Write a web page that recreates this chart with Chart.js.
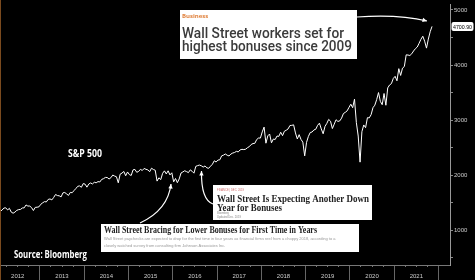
<!DOCTYPE html>
<html>
<head>
<meta charset="utf-8">
<script src="https://cdn.jsdelivr.net/npm/chart.js@4.4.1/dist/chart.umd.min.js"></script>
<style>
  html, body { margin: 0; padding: 0; background: #000; }
  canvas { display: block; }
</style>
</head>
<body>
<canvas id="chart" width="475" height="280"></canvas>
<script>
// S&P 500, about two readings a month (mid-month, month end)
const sp2012 = [1290, 1312, 1343, 1366, 1404, 1408, 1370, 1398, 1330, 1310, 1330, 1362, 1375, 1379, 1405, 1407, 1460, 1440, 1440, 1412, 1359, 1416, 1419, 1426];
const sp2013 = [1472, 1498, 1520, 1515, 1560, 1569, 1552, 1597, 1650, 1631, 1626, 1606, 1680, 1686, 1661, 1633, 1688, 1682, 1721, 1757, 1798, 1806, 1781, 1848];
const sp2014 = [1838, 1783, 1840, 1859, 1841, 1872, 1862, 1884, 1877, 1924, 1937, 1960, 1958, 1931, 1955, 2003, 1985, 1972, 1862, 2018, 2039, 2068, 1990, 2059];
const sp2015 = [2011, 1995, 2097, 2105, 2053, 2068, 2107, 2086, 2123, 2107, 2097, 2063, 2127, 2104, 2091, 1893, 1953, 1920, 2033, 2079, 2023, 2080, 2005, 2044];
const sp2016 = [1880, 1940, 1864, 1932, 2040, 2060, 2081, 2065, 2047, 2097, 2071, 2037, 2161, 2174, 2184, 2171, 2147, 2168, 2133, 2126, 2164, 2199, 2262, 2239];
const sp2017 = [2275, 2279, 2351, 2364, 2385, 2363, 2349, 2384, 2402, 2412, 2433, 2423, 2459, 2470, 2465, 2472, 2500, 2519, 2557, 2575, 2579, 2648, 2675, 2674];
const sp2018 = [2786, 2873, 2581, 2714, 2748, 2588, 2656, 2648, 2711, 2705, 2780, 2718, 2798, 2816, 2840, 2902, 2905, 2914, 2767, 2658, 2736, 2650, 2600, 2351];
const sp2019 = [2596, 2704, 2775, 2784, 2822, 2834, 2905, 2945, 2840, 2752, 2886, 2941, 3013, 2980, 2847, 2926, 3007, 2976, 2986, 3037, 3120, 3141, 3168, 3231];
const sp2020 = [3289, 3225, 3380, 2954, 2711, 2237, 2790, 2912, 2863, 3044, 3041, 3100, 3226, 3271, 3372, 3500, 3340, 3280, 3483, 3270, 3585, 3638, 3663, 3756];
const sp2021 = [3795, 3714, 3934, 3811, 3943, 3973, 4185, 4181, 4173, 4204, 4255, 4297, 4327, 4395, 4468, 4523, 4432, 4307, 4471, 4605, 4700.90];

const years = ['2012', '2013', '2014', '2015', '2016', '2017', '2018', '2019', '2020', '2021'];
const yTickValues = [500, 1000, 1500, 2000, 2500, 3000, 3500, 4000, 4500, 5000];
const lastPrice = 4700.90;

const seriesByYear = [sp2012, sp2013, sp2014, sp2015, sp2016, sp2017, sp2018, sp2019, sp2020, sp2021];

// each year holds 24 half-month slots
const points = [];
seriesByYear.forEach((vals, yi) => {
    vals.forEach((v, i) => points.push({ x: Number(years[yi]) + (i + 0.5) / 24, y: v }));
});

function drawArrow(ctx, x0, y0, cx, cy, x1, y1) {
    ctx.beginPath();
    ctx.moveTo(x0, y0);
    ctx.quadraticCurveTo(cx, cy, x1, y1);
    ctx.stroke();
    const a = Math.atan2(y1 - cy, x1 - cx);
    ctx.beginPath();
    ctx.moveTo(x1, y1);
    ctx.lineTo(x1 - 5 * Math.cos(a - 0.45), y1 - 5 * Math.sin(a - 0.45));
    ctx.lineTo(x1 - 5 * Math.cos(a + 0.45), y1 - 5 * Math.sin(a + 0.45));
    ctx.closePath();
    ctx.fill();
}

// news clippings, labels and arrows laid over the chart
const overlayPlugin = {
    id: 'overlay',
    afterDraw(chart) {
        const ctx = chart.ctx;
        ctx.save();

        // thin orange edge on the left
        ctx.fillStyle = '#7a4a1e';
        ctx.fillRect(0, 0, 1, 280);

        ctx.textBaseline = 'alphabetic';
        ctx.textAlign = 'left';

        // top clipping
        ctx.fillStyle = '#fff';
        ctx.fillRect(180, 10, 177, 49);
        ctx.fillStyle = '#e0823e';
        ctx.font = 'bold 6px "Open Sans"';
        ctx.fillText('Business', 182, 18, 29);
        ctx.fillStyle = '#3b3b3b';
        ctx.font = '500 15px Roboto';
        ctx.fillText('Wall Street workers set for', 182, 37.5, 162);
        ctx.fillText('highest bonuses since 2009', 182, 51, 170);

        // middle clipping
        ctx.fillStyle = '#fff';
        ctx.fillRect(213, 185, 159, 35);
        ctx.fillStyle = '#d06a6a';
        ctx.font = '3px "Liberation Sans"';
        ctx.fillText('FINANCE | DEC. 2019', 217, 191, 27);
        ctx.fillStyle = '#222';
        ctx.font = 'bold 10px "Liberation Serif"';
        ctx.fillText('Wall Street Is Expecting Another Down', 217, 202, 152);
        ctx.fillText('Year for Bonuses', 217, 210.5, 65);
        ctx.fillStyle = '#888';
        ctx.font = '3px "Liberation Sans"';
        ctx.fillText('Bloomberg', 217, 214, 12);
        ctx.fillText('Updated Dec. 2019', 217, 217.5, 24);

        // bottom clipping
        ctx.fillStyle = '#fff';
        ctx.fillRect(101, 224, 258, 28);
        ctx.fillStyle = '#222';
        ctx.font = 'bold 10px "Liberation Serif"';
        ctx.fillText('Wall Street Bracing for Lower Bonuses for First Time in Years', 104, 233, 213);
        ctx.fillStyle = '#999';
        ctx.font = '4px "Liberation Sans"';
        ctx.fillText('Wall Street paychecks are expected to drop for the first time in four years as financial firms reel from a choppy 2018, according to a', 104, 240, 251);
        ctx.fillText('closely watched survey from consulting firm Johnson Associates Inc.', 104, 246.5, 136);

        // white labels
        ctx.fillStyle = '#fff';
        ctx.font = 'bold 10px "Open Sans"';
        ctx.fillText('S&P 500', 68, 156.5, 34);
        ctx.fillText('Source: Bloomberg', 14, 258, 73);

        // arrows
        ctx.strokeStyle = '#fff';
        ctx.fillStyle = '#fff';
        ctx.lineWidth = 1.2;
        drawArrow(ctx, 357, 17, 398, 14, 427, 21);
        drawArrow(ctx, 213, 204, 201, 200, 201.5, 171);
        drawArrow(ctx, 140, 223, 168, 210, 171, 184);

        // last price tag
        const y = chart.scales.y.getPixelForValue(lastPrice);
        ctx.fillStyle = '#fff';
        ctx.beginPath();
        ctx.roundRect(451.5, y - 4.5, 22, 9, 2);
        ctx.fill();
        ctx.fillStyle = '#000';
        ctx.font = '6px "Liberation Sans"';
        ctx.textBaseline = 'middle';
        ctx.fillText(lastPrice.toFixed(2), 453, y + 0.5, 19);

        ctx.restore();
    }
};

new Chart(document.getElementById('chart'), {
    type: 'line',
    data: {
        datasets: [{
            data: points,
            borderColor: '#fff',
            borderWidth: 1,
            pointRadius: 0,
            tension: 0
        }]
    },
    options: {
        responsive: false,
        animation: false,
        layout: { padding: 0 },
        plugins: {
            legend: { display: false },
            tooltip: { enabled: false }
        },
        scales: {
            x: {
                type: 'linear',
                min: 2012.1,
                max: 2022.26,
                afterBuildTicks: scale => {
                    scale.ticks = years.map(y => ({ value: Number(y) + 0.5 }));
                },
                afterFit: scale => { scale.height = 15; },
                grid: {
                    offset: true,          // year separators sit between the labels
                    drawOnChartArea: false,
                    tickLength: 15,
                    color: '#666'
                },
                border: { display: true, color: '#777' },
                ticks: {
                    autoSkip: false,
                    maxRotation: 0,
                    padding: -7,
                    color: '#ccc',
                    font: { family: 'Liberation Sans', size: 6 },
                    callback: (v, i) => years[i]
                }
            },
            xq: {
                type: 'linear',
                position: { y: 370 },
                min: 2012.1,
                max: 2022.26,
                afterBuildTicks: scale => {
                    const t = [];
                    years.forEach(y => [0.25, 0.5, 0.75].forEach(q => t.push({ value: Number(y) + q })));
                    scale.ticks = t;
                },
                grid: { drawOnChartArea: false, tickLength: 2, color: '#777' },
                border: { display: false },
                ticks: { display: false }
            },
            y: {
                position: 'right',
                min: 370,
                max: 5097,
                afterBuildTicks: scale => {
                    scale.ticks = yTickValues.map(v => ({ value: v }));
                },
                afterFit: scale => { scale.width = 25; },
                grid: { drawOnChartArea: false, tickLength: 3, color: '#888' },
                border: { display: true, color: '#999' },
                ticks: {
                    padding: 1,
                    color: '#ccc',
                    font: { family: 'Liberation Sans', size: 6 },
                    callback: v => (v % 1000 === 0 ? String(v) : '')
                }
            }
        }
    },
    plugins: [overlayPlugin]
});
</script>
</body>
</html>
